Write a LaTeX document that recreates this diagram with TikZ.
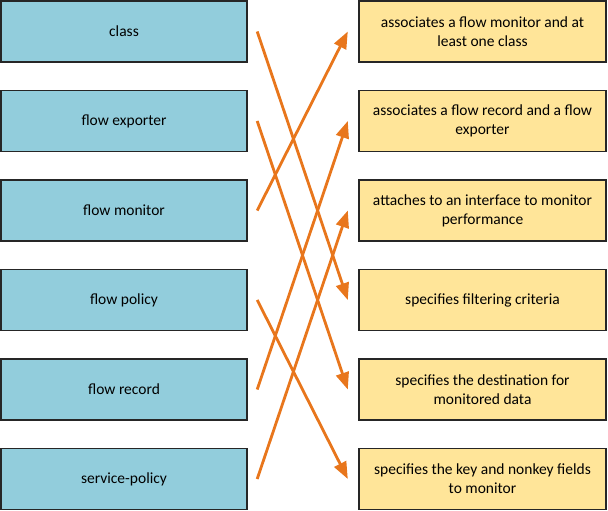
\documentclass[tikz,border=0pt]{standalone}
\usepackage{fontspec}
\setmainfont{Carlito}
\usetikzlibrary{arrows.meta}
\definecolor{boxblue}{HTML}{92CDDC}
\definecolor{boxyellow}{HTML}{FFE599}
\definecolor{boxline}{HTML}{262626}
\definecolor{arr}{HTML}{E8761C}
\tikzset{
  lbox/.style={draw=boxline, line width=1.4pt, fill=boxblue, minimum width=246pt, minimum height=61pt, inner sep=0pt, font=\fontsize{15.5pt}{19pt}\selectfont},
  rbox/.style={draw=boxline, line width=1.4pt, fill=boxyellow, minimum width=247pt, minimum height=61pt, inner sep=0pt, align=center, font=\fontsize{15.5pt}{19pt}\selectfont},
  link/.style={draw=arr, line width=2.8pt, -{Triangle[length=17pt,width=13pt]}},
  from/.style={xshift=9.5pt},
  to/.style={xshift=-10.5pt}
}
\begin{document}
\begin{tikzpicture}[x=1pt,y=-1pt]
\useasboundingbox (0,0) rectangle (608,511);
\node[lbox] (L1) at (124,31.5) {class};
\node[lbox] (L2) at (124,121) {flow exporter};
\node[lbox] (L3) at (124,210.5) {flow monitor};
\node[lbox] (L4) at (124,300) {flow policy};
\node[lbox] (L5) at (124,389.5) {flow record};
\node[lbox] (L6) at (124,479) {service-policy};
\node[rbox] (R1) at (482.5,31.5) {associates a flow monitor and at\\least one class};
\node[rbox] (R2) at (482.5,121) {associates a flow record and a flow\\exporter};
\node[rbox] (R3) at (482.5,210.5) {attaches to an interface to monitor\\performance};
\node[rbox] (R4) at (482.5,300) {specifies filtering criteria};
\node[rbox] (R5) at (482.5,389.5) {specifies the destination for\\monitored data};
\node[rbox] (R6) at (482.5,479) {specifies the key and nonkey fields\\to monitor};
\draw[link] ([from]L1.east) -- ([to]R4.west);
\draw[link] ([from]L2.east) -- ([to]R5.west);
\draw[link] ([from]L3.east) -- ([to]R1.west);
\draw[link] ([from]L4.east) -- ([to]R6.west);
\draw[link] ([from]L5.east) -- ([to]R2.west);
\draw[link] ([from]L6.east) -- ([to]R3.west);
\end{tikzpicture}
\end{document}
